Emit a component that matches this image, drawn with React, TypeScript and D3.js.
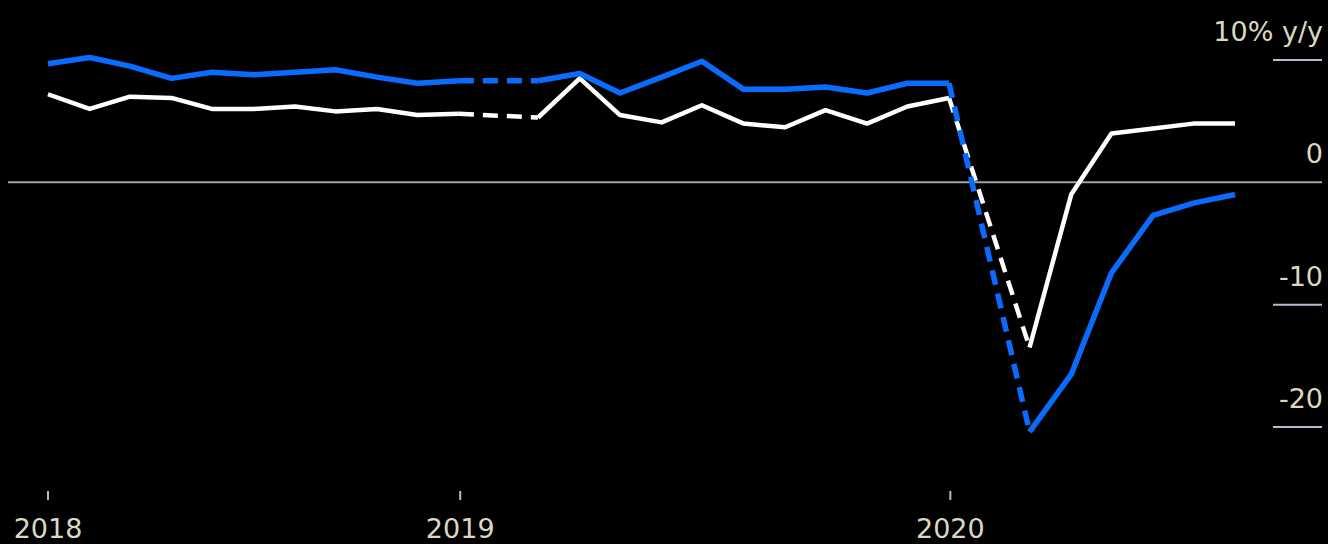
import React, { useRef, useEffect } from 'react';
import * as d3 from 'd3';

// monthly y/y changes, Feb 2018 - Jul 2020 (January is folded into Feb, so it is missing)
const months = [
  '2018-02', '2018-03', '2018-04', '2018-05', '2018-06', '2018-07', '2018-08', '2018-09', '2018-10', '2018-11', '2018-12',
  '2019-01', '2019-02', '2019-03', '2019-04', '2019-05', '2019-06', '2019-07', '2019-08', '2019-09', '2019-10', '2019-11', '2019-12',
  '2020-01', '2020-02', '2020-03', '2020-04', '2020-05', '2020-06', '2020-07',
];

const retailSales = [
  9.7, 10.2, 9.5, 8.5, 9.0, 8.8, 9.0, 9.2, 8.6, 8.1, 8.3,
  null, 8.3, 8.9, 7.3, 8.6, 9.9, 7.6, 7.6, 7.8, 7.3, 8.1, 8.1,
  null, -20.4, -15.7, -7.4, -2.7, -1.7, -1.0,
];

const industrialOutput = [
  7.2, 6.0, 7.0, 6.9, 6.0, 6.0, 6.2, 5.8, 6.0, 5.5, 5.6,
  null, 5.3, 8.5, 5.5, 4.9, 6.3, 4.8, 4.5, 5.9, 4.8, 6.2, 6.9,
  null, -13.5, -1.0, 4.0, 4.4, 4.8, 4.8,
];

const yTicks = [10, 0, -10, -20];
const yTickLabels = ['10% y/y', '0', '-10', '-20'];
const xTickYears = [2018, 2019, 2020];

const width = 1328;
const height = 544;

const monthEnd = (s) => {
  const [y, m] = s.split('-').map(Number);
  return new Date(y, m, 0);
};

const App = () => {
  const svgRef = useRef();

  useEffect(() => {
    const svg = d3.select(svgRef.current);
    svg.selectAll('*').remove();

    const dates = months.map(monthEnd);

    const x = d3.scaleTime()
      .domain([dates[0], dates[dates.length - 1]])
      .range([48, 1235])
      .clamp(true);

    const y = d3.scaleLinear()
      .domain([-20, 10])
      .range([427, 60]);

    const textColor = '#dcd8c0';
    const tickColor = '#b9b9d6';
    const font = 'DejaVu Sans, sans-serif';

    svg.append('rect')
      .attr('width', width)
      .attr('height', height)
      .attr('fill', '#000');

    // zero line
    svg.append('line')
      .attr('x1', 8)
      .attr('x2', 1322)
      .attr('y1', y(0))
      .attr('y2', y(0))
      .attr('stroke', '#a3a3a3')
      .attr('stroke-width', 2);

    // right-hand y labels with short rules under them
    const yAxis = svg.append('g');
    yTicks.forEach((t, i) => {
      if (t !== 0) {
        yAxis.append('line')
          .attr('x1', 1273)
          .attr('x2', 1322)
          .attr('y1', y(t))
          .attr('y2', y(t))
          .attr('stroke', tickColor)
          .attr('stroke-width', 2);
      }
      yAxis.append('text')
        .attr('x', 1323)
        .attr('y', y(t) - 19)
        .attr('text-anchor', 'end')
        .attr('fill', textColor)
        .style('font-family', font)
        .style('font-size', '27px')
        .text(yTickLabels[i]);
    });

    // year ticks at the bottom
    const xAxis = svg.append('g');
    xTickYears.forEach(yr => {
      const px = x(new Date(yr, 0, 1));
      xAxis.append('line')
        .attr('x1', px)
        .attr('x2', px)
        .attr('y1', 491)
        .attr('y2', 500)
        .attr('stroke', tickColor)
        .attr('stroke-width', 2);
      xAxis.append('text')
        .attr('x', px)
        .attr('y', 538)
        .attr('text-anchor', 'middle')
        .attr('fill', textColor)
        .style('font-family', font)
        .style('font-size', '27px')
        .text(yr);
    });

    const drawSeries = (values, color, strokeWidth) => {
      const pts = values.map((v, i) => ({ date: dates[i], value: v }));

      const line = d3.line()
        .defined(d => d.value != null)
        .x(d => x(d.date))
        .y(d => y(d.value));

      // dashed bridge over each missing month
      pts.forEach((d, i) => {
        if (d.value == null && i > 0 && i < pts.length - 1) {
          svg.append('path')
            .datum([pts[i - 1], pts[i + 1]])
            .attr('fill', 'none')
            .attr('stroke', color)
            .attr('stroke-width', strokeWidth)
            .attr('stroke-dasharray', '15,9')
            .attr('d', d3.line().x(p => x(p.date)).y(p => y(p.value)));
        }
      });

      svg.append('path')
        .datum(pts)
        .attr('fill', 'none')
        .attr('stroke', color)
        .attr('stroke-width', strokeWidth)
        .attr('stroke-linejoin', 'round')
        .attr('d', line);
    };

    drawSeries(industrialOutput, '#ffffff', 4.5);
    drawSeries(retailSales, '#0a6cff', 5.5);
  }, []);

  return (
    <svg
      ref={svgRef}
      width={width}
      height={height}
      style={{ position: 'absolute', left: 0, top: 0, display: 'block' }}
    />
  );
};

export default App;
